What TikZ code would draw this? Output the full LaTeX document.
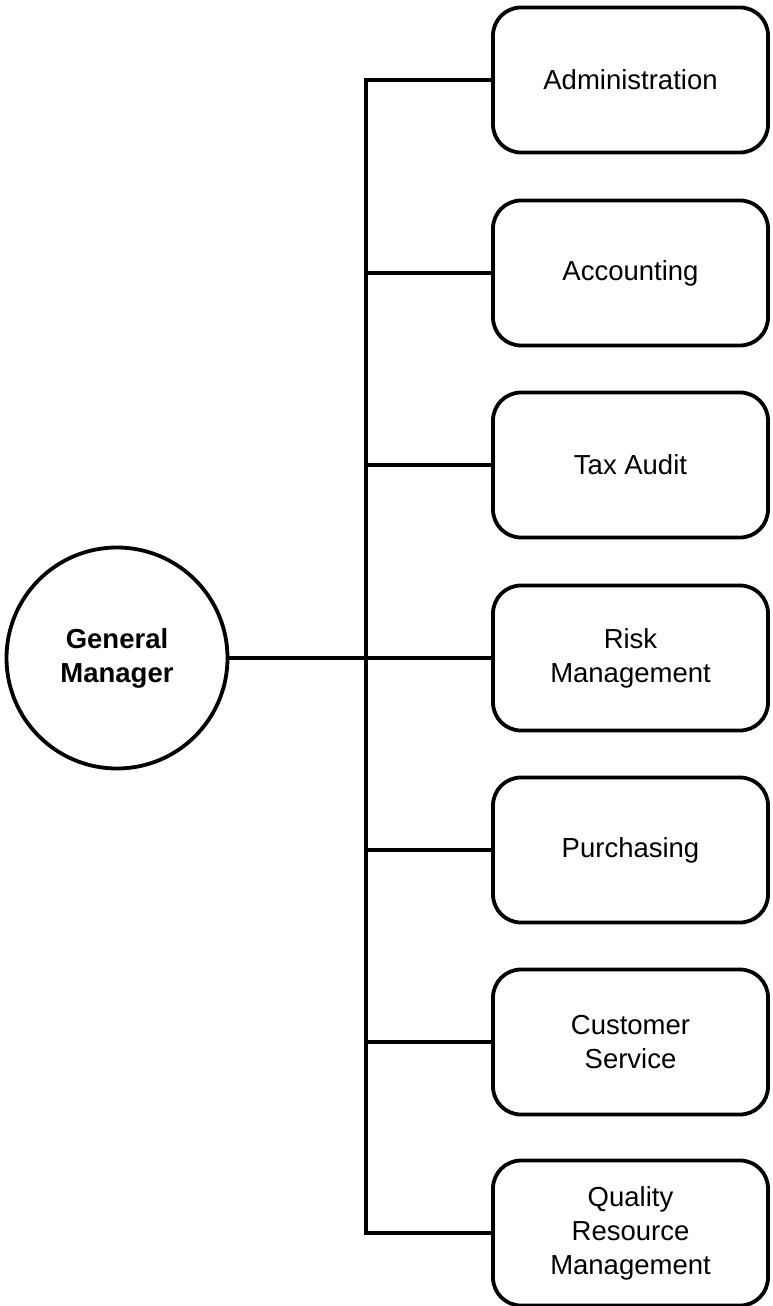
\documentclass[tikz,border=0pt]{standalone}
\usepackage{fontspec}
\setmainfont{Liberation Sans}
\begin{document}
\begin{tikzpicture}[x=1bp,y=-1bp,
  dept/.style={draw, line width=3.8bp, rounded corners=28bp, minimum width=275bp, minimum height=145bp, inner sep=0pt, align=center, font=\fontsize{27.5bp}{34bp}\selectfont},
  gm/.style={draw, circle, line width=3.8bp, minimum size=221bp, inner sep=0pt, align=center, font=\bfseries\fontsize{27.5bp}{34bp}\selectfont},
  conn/.style={line width=3.2bp}]
\useasboundingbox (0,0) rectangle (772,1306);
\node[gm] (g) at (117,658) {General\\Manager};
\node[dept] (d1) at (630.5,80) {Administration};
\node[dept] (d2) at (630.5,273) {Accounting};
\node[dept] (d3) at (630.5,465) {Tax Audit};
\node[dept] (d4) at (630.5,658) {Risk\\Management};
\node[dept] (d5) at (630.5,850) {Purchasing};
\node[dept] (d6) at (630.5,1042) {Customer\\Service};
\node[dept] (d7) at (630.5,1233) {Quality\\Resource\\Management};
\coordinate (tt) at (366,80);
\coordinate (tb) at (366,1233);
\draw[conn] (d1.west) -- (tt) -- (tb) -- (d7.west);
\foreach \i in {2,3,5,6} {\draw[conn] (tt |- d\i.west) -- (d\i.west);}
\draw[conn] (g.east) -- (d4.west);
\end{tikzpicture}
\end{document}
